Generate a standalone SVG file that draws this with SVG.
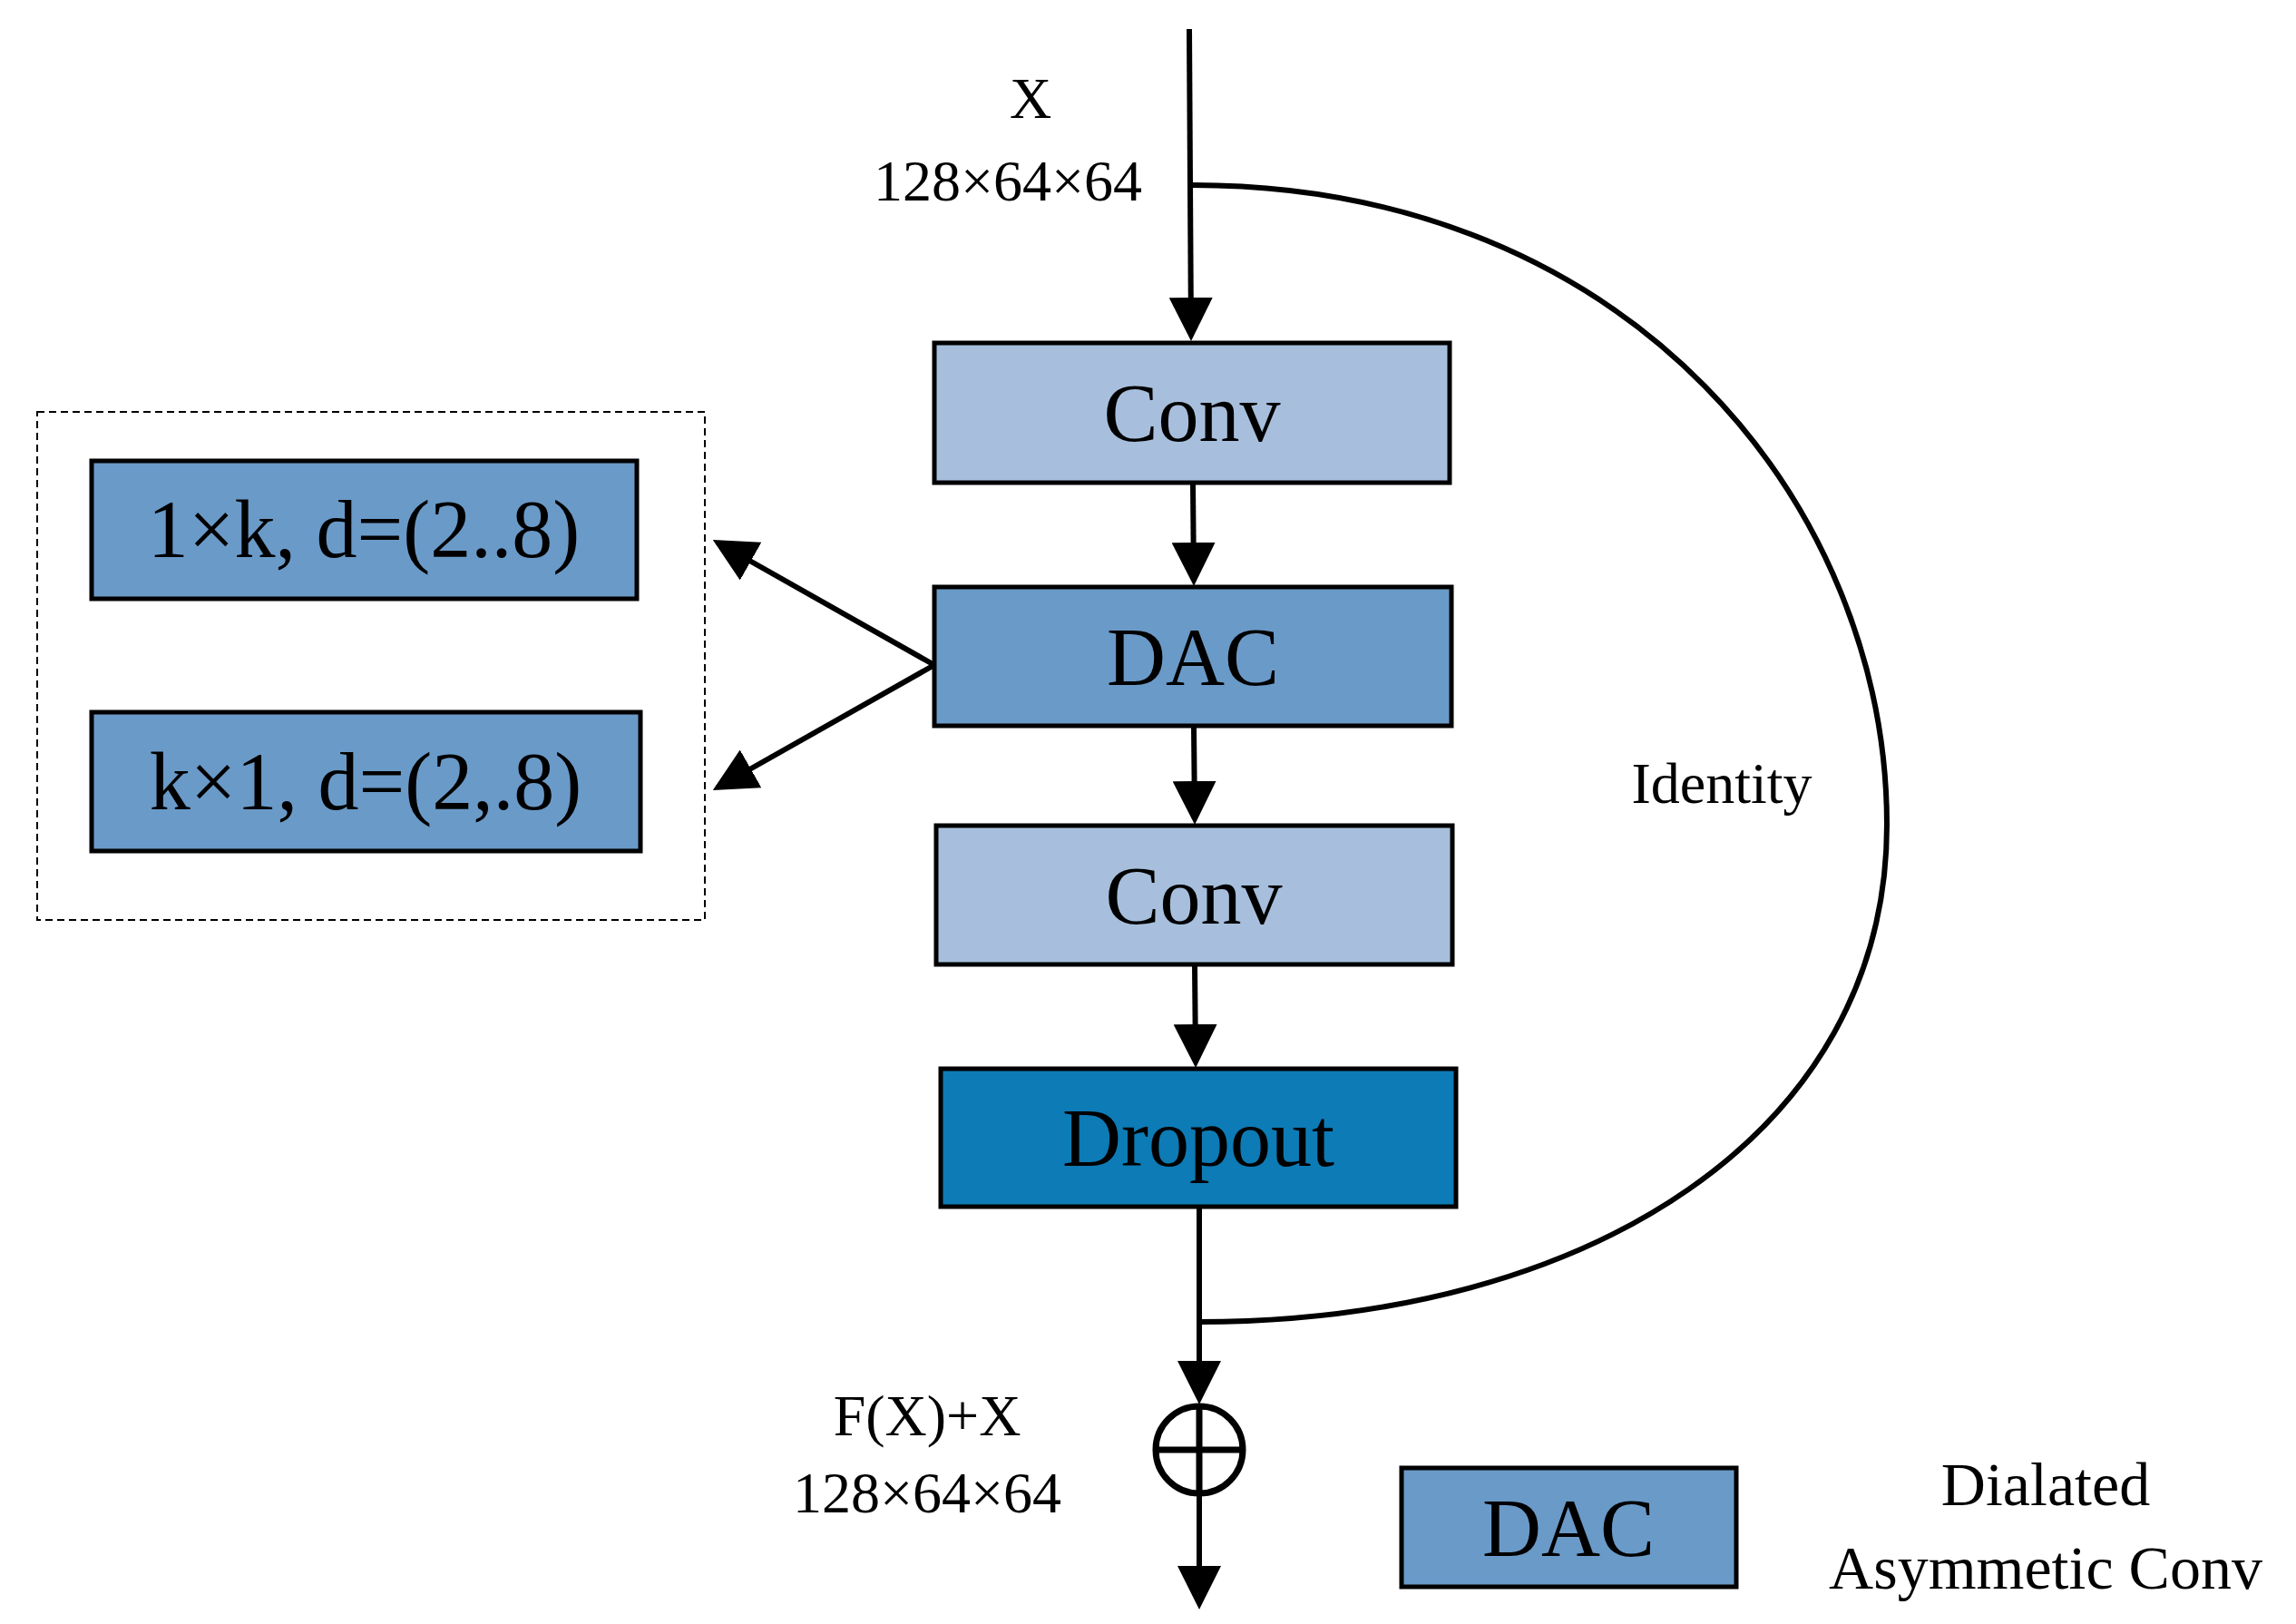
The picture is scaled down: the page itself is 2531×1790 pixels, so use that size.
<svg xmlns="http://www.w3.org/2000/svg" width="2531" height="1790" viewBox="0 0 2531 1790">
<style>
text{font-family:"Liberation Serif",serif;fill:#000;text-anchor:middle}
.b{stroke:#000;stroke-width:5}
.l{stroke:#000;stroke-width:6;fill:none}
.big{font-size:90px}
.sm{font-size:64px}
</style>
<defs><marker id="a" markerWidth="8" markerHeight="8" refX="7" refY="4" orient="auto" markerUnits="strokeWidth"><path d="M0,0 L8,4 L0,8 z" fill="#000"/></marker></defs>
<rect width="2531" height="1790" fill="#fff"/>
<g id="connectors">
<path class="l" d="M1311,32 L1313,370" marker-end="url(#a)"/>
<path class="l" d="M1315,532 L1316,640" marker-end="url(#a)"/>
<path class="l" d="M1316,800 L1317,903" marker-end="url(#a)"/>
<path class="l" d="M1317,1063 L1318,1171" marker-end="url(#a)"/>
<path class="l" d="M1322,1330 L1322,1542" marker-end="url(#a)"/>
<path class="l" d="M1322,1647 L1322,1768" marker-end="url(#a)"/>
<path class="l" d="M1314,204 C1800,204 2080,560 2080,909 C2080,1250 1750,1457 1322,1457"/>
<path class="l" d="M1030,733 L791,598" marker-end="url(#a)"/>
<path class="l" d="M1030,733 L791,868" marker-end="url(#a)"/>
</g>
<g id="labels">
<text x="1136" y="130" class="sm">X</text>
<text x="1111" y="221" class="sm">128×64×64</text>
<text x="1898" y="885" class="sm">Identity</text>
<text x="1022" y="1582" class="sm">F(X)+X</text>
<text x="1022" y="1667" class="sm">128×64×64</text>
</g>
<g id="conv1"><rect class="b" x="1030" y="378" width="568" height="154" fill="#a7bfdd"/><text x="1314" y="486" class="big">Conv</text></g>
<g id="dac"><rect class="b" x="1030" y="647" width="570" height="153" fill="#6a9ac8"/><text x="1315" y="755" class="big">DAC</text></g>
<g id="conv2"><rect class="b" x="1032" y="910" width="569" height="153" fill="#a7bfdd"/><text x="1316" y="1018" class="big">Conv</text></g>
<g id="dropout"><rect class="b" x="1037" y="1178" width="568" height="152" fill="#0d7bb5"/><text x="1321" y="1285" class="big">Dropout</text></g>
<g id="plus"><circle cx="1322" cy="1598" r="48" fill="#fff" stroke="#000" stroke-width="7"/><path d="M1274,1598 H1370 M1322,1550 V1646" stroke="#000" stroke-width="7"/></g>
<g id="group"><rect x="41" y="454" width="736" height="560" fill="none" stroke="#000" stroke-width="2" stroke-dasharray="8,5"/></g>
<g id="k1"><rect class="b" x="101" y="508" width="601" height="152" fill="#6a9ac8"/><text x="401" y="614" class="big">1×k, d=(2..8)</text></g>
<g id="k2"><rect class="b" x="101" y="785" width="605" height="153" fill="#6a9ac8"/><text x="403" y="892" class="big">k×1, d=(2,.8)</text></g>
<g id="legend"><rect class="b" x="1545" y="1618" width="369" height="131" fill="#6a9ac8"/><text x="1729" y="1715" class="big">DAC</text>
<text x="2255" y="1659" font-size="68">Dialated</text><text x="2255" y="1751" font-size="68">Asymmetic Conv</text></g>
</svg>
